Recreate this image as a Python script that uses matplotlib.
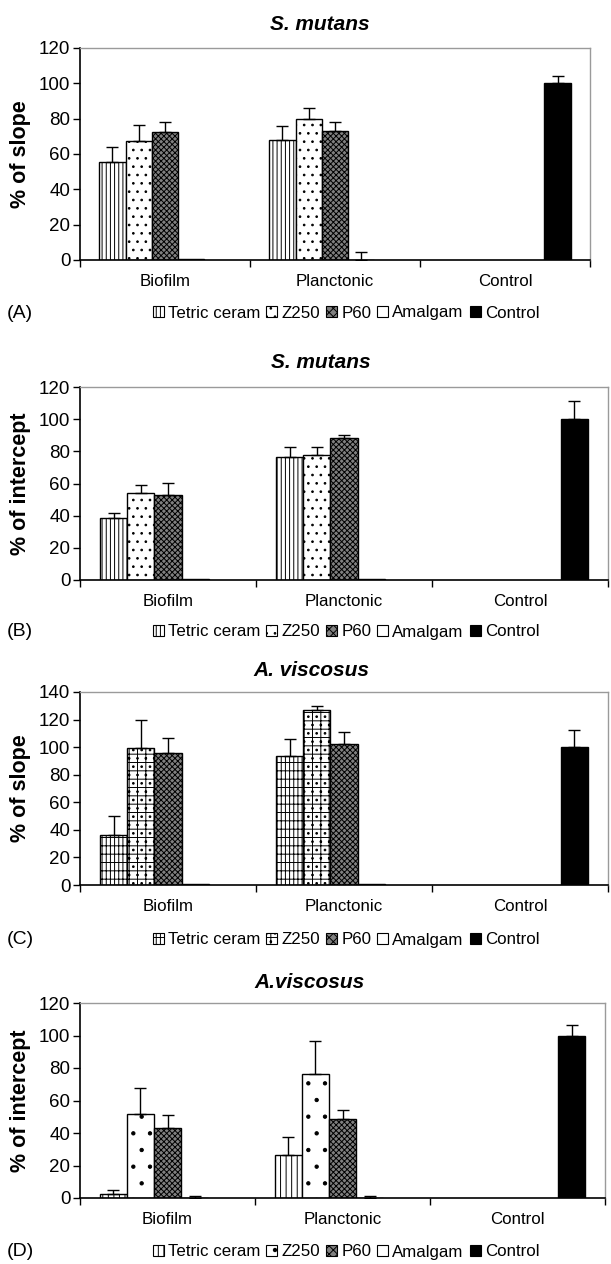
import numpy as np
import matplotlib
matplotlib.use('Agg')
import matplotlib.pyplot as plt
from matplotlib.patches import Patch

plt.rcParams['font.family'] = ['Liberation Sans', 'DejaVu Sans']
plt.rcParams['hatch.linewidth'] = 0.7

categories = ['Biofilm', 'Planctonic', 'Control']
series = ['Tetric ceram', 'Z250', 'P60', 'Amalgam', 'Control']

# panel A - S. mutans, % of slope
a_vals = [[55.4, 68.0, np.nan], [67.5, 80.0, np.nan], [72.6, 73.3, np.nan],
          [0.5, 0.0, np.nan], [np.nan, np.nan, 100.2]]
a_errs = [[8.3, 7.8, 0], [8.9, 6.0, 0], [5.4, 4.7, 0],
          [0.0, 4.5, 0], [0, 0, 4.1]]
# panel B - S. mutans, % of intercept
b_vals = [[38.8, 76.4, np.nan], [54.4, 77.6, np.nan], [52.7, 88.4, np.nan],
          [0.5, 0.5, np.nan], [np.nan, np.nan, 99.9]]
b_errs = [[2.7, 6.6, 0], [4.8, 5.4, 0], [7.9, 1.5, 0],
          [0.0, 0.0, 0], [0, 0, 11.6]]
# panel C - A. viscosus, % of slope
c_vals = [[36.0, 93.9, np.nan], [99.4, 127.0, np.nan], [95.6, 102.3, np.nan],
          [0.5, 0.5, np.nan], [np.nan, np.nan, 100.4]]
c_errs = [[14.2, 12.3, 0], [20.1, 2.6, 0], [11.3, 8.7, 0],
          [0.0, 0.0, 0], [0, 0, 12.3]]
# panel D - A.viscosus, % of intercept
d_vals = [[2.3, 26.7, np.nan], [52.0, 76.2, np.nan], [42.8, 48.6, np.nan],
          [0.0, 0.0, np.nan], [np.nan, np.nan, 99.8]]
d_errs = [[2.5, 11.1, 0], [15.4, 20.3, 0], [8.2, 5.7, 0],
          [1.3, 1.3, 0], [0, 0, 6.7]]

# title, ylabel, tag, values, errors, ymax, top, bottom, left, right, title y, title x, legend y
panels = [
    ('S. mutans', '% of slope', '(A)', a_vals, a_errs, 120, 48, 260, 80, 590, 25, 320, 313),
    ('S. mutans', '% of intercept', '(B)', b_vals, b_errs, 120, 387, 580, 80, 608, 363, 321, 632),
    ('A. viscosus', '% of slope', '(C)', c_vals, c_errs, 140, 692, 885, 80, 608, 670, 311, 940),
    ('A.viscosus', '% of intercept', '(D)', d_vals, d_errs, 120, 1003, 1198, 80, 605, 983, 310, 1252),
]

W, H = 611, 1264
fig = plt.figure(figsize=(W / 100, H / 100), dpi=100)

faces = ['white', 'white', '#808080', 'white', 'black']
hatches = ['||||', '..', 'xxxxxx', '', '']
hatches_c = ['||||--', '..++', 'xxxxxx', '', '']
hatches_d = ['|||', '.', 'xxxxxx', '', '']

x = np.arange(len(categories))
width = 1 / 6.46

for title, ylab, tag, vals, errs, ymax, top, bot, left, right, ty, tx, ly in panels:
    ax = fig.add_axes([left / W, 1 - bot / H, (right - left) / W, (bot - top) / H])
    hs = hatches_c if tag == '(C)' else (hatches_d if tag == '(D)' else hatches)
    for i, name in enumerate(series):
        v = np.array(vals[i], dtype=float)
        e = np.array(errs[i], dtype=float)
        pos = x + (i - 2) * width
        ax.bar(pos, v, width, color=faces[i], edgecolor='black', hatch=hs[i],
               linewidth=1.0, zorder=2)
        m = ~np.isnan(v) & (e > 0)
        ax.errorbar(pos[m], v[m], yerr=[np.zeros(m.sum()), e[m]], fmt='none',
                    ecolor='black', elinewidth=1, capsize=4, capthick=1, zorder=3)
    ax.set_xlim(-0.5, 2.5)
    ax.set_ylim(0, ymax)
    ax.set_yticks(np.arange(0, ymax + 1, 20))
    ax.tick_params(axis='y', labelsize=13.5, direction='out', length=5, width=1, pad=2)
    ax.set_xticks([-0.5, 0.5, 1.5, 2.5])
    ax.set_xticklabels([])
    ax.set_xticks(x, minor=True)
    ax.set_xticklabels(categories, minor=True, fontsize=12.2)
    ax.tick_params(axis='x', which='major', direction='out', length=5, width=1)
    ax.tick_params(axis='x', which='minor', length=0, pad=10)
    for s in ['left', 'bottom']:
        ax.spines[s].set_color('black')
        ax.spines[s].set_linewidth(1.2)
    for s in ['top', 'right']:
        ax.spines[s].set_color('#9a9a9a')
        ax.spines[s].set_linewidth(1.0)

    fig.text(tx / W, 1 - ty / H, title, ha='center', va='center',
             fontsize=15, fontweight='bold', fontstyle='italic')
    fig.text(21 / W, 1 - (top + bot) / 2 / H, ylab, ha='center', va='center',
             rotation=90, fontsize=15.5, fontweight='bold')
    fig.text(7 / W, 1 - ly / H, tag, ha='left', va='center', fontsize=14)

    handles = [Patch(facecolor=faces[i], edgecolor='black', hatch=hs[i] if i != 2 else 'xxxx',
                     linewidth=0.8, label=series[i]) for i in range(5)]
    fig.legend(handles=handles, loc='center', bbox_to_anchor=(346 / W, 1 - ly / H),
               ncol=5, frameon=False, fontsize=12.2, handlelength=0.65, handleheight=0.65,
               handletextpad=0.25, columnspacing=0.35, borderpad=0)

fig.savefig('out.png', dpi=100)
